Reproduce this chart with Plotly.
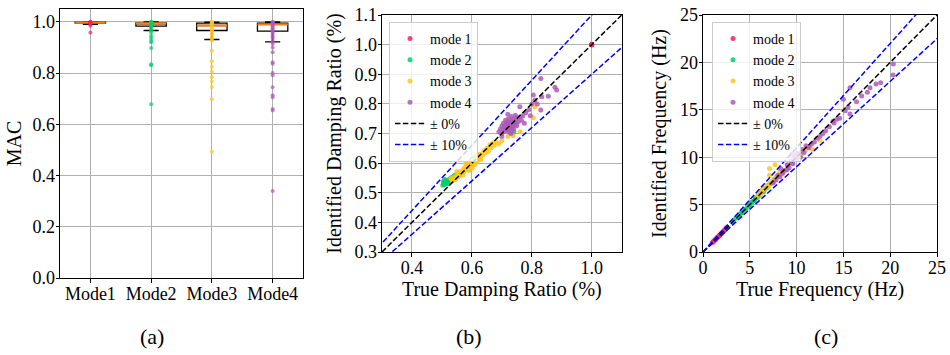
import numpy as np
import plotly.graph_objects as go

FONT = "Liberation Serif"

# ---------------- data ----------------
modes = ["Mode1", "Mode2", "Mode3", "Mode4"]
mode_names = ["mode 1", "mode 2", "mode 3", "mode 4"]
colors = ["#FF1F5B", "#00CD6C", "#FFC61E", "#AF58BA"]

# (a) MAC values per mode
mac1 = [1.0, 0.999, 0.998, 0.997, 0.996, 0.995, 0.99, 0.985, 0.958]
mac2 = [1.0, 0.999, 0.998, 0.996, 0.994, 0.992, 0.99, 0.985, 0.983, 0.979, 0.97,
        0.966, 0.959, 0.946, 0.937, 0.926, 0.92, 0.898, 0.834, 0.83, 0.678]
mac3 = [1.0, 0.998, 0.996, 0.994, 0.99, 0.986, 0.98, 0.975, 0.97, 0.966, 0.96,
        0.952, 0.945, 0.938, 0.931, 0.926, 0.887, 0.846, 0.825, 0.806, 0.784,
        0.767, 0.746, 0.698, 0.493]
mac4 = [1.0, 0.998, 0.996, 0.993, 0.99, 0.985, 0.98, 0.975, 0.97, 0.964, 0.96,
        0.952, 0.945, 0.939, 0.93, 0.922, 0.913, 0.9, 0.881, 0.842, 0.836, 0.8,
        0.791, 0.745, 0.713, 0.706, 0.66, 0.654, 0.34]
mac_all = [mac1, mac2, mac3, mac4]

# box statistics
box_q1 = [0.995, 0.983, 0.966, 0.964]
box_med = [0.997, 0.9935, 0.9856, 0.9896]
box_q3 = [0.999, 0.996, 0.995, 0.995]
box_lo = [0.99, 0.966, 0.931, 0.922]
box_hi = [1.0, 1.0, 0.999, 1.0]

# (b) damping ratio: true / identified
dr1_true = [1.0, 1.0, 1.0, 1.0]
dr1_id = [1.0, 1.001, 0.999, 1.0]
dr2_true = [0.503, 0.506, 0.509, 0.512, 0.515, 0.518, 0.521, 0.524, 0.527, 0.530,
            0.533, 0.536, 0.539, 0.542, 0.545, 0.548, 0.552, 0.556, 0.505, 0.51,
            0.52, 0.53, 0.54, 0.55, 0.585, 0.595, 0.60, 0.605, 0.61, 0.615, 0.62,
            0.625, 0.735, 0.74, 0.73]
dr2_id = [0.525, 0.532, 0.528, 0.536, 0.540, 0.534, 0.543, 0.539, 0.546, 0.550,
          0.544, 0.553, 0.549, 0.557, 0.560, 0.556, 0.563, 0.566, 0.538, 0.545,
          0.530, 0.545, 0.547, 0.555, 0.594, 0.600, 0.612, 0.604, 0.620, 0.613,
          0.625, 0.618, 0.700, 0.707, 0.712]
dr3_true = [0.530, 0.535, 0.540, 0.545, 0.550, 0.553, 0.556, 0.560, 0.563, 0.566,
            0.570, 0.573, 0.576, 0.580, 0.583, 0.586, 0.590, 0.593, 0.596, 0.600,
            0.603, 0.606, 0.610, 0.613, 0.616, 0.620, 0.623, 0.626, 0.630, 0.635,
            0.640, 0.645, 0.650, 0.655, 0.660, 0.665, 0.670, 0.675, 0.680, 0.690,
            0.700, 0.720, 0.738, 0.761, 0.805, 0.81, 0.55, 0.57, 0.59, 0.61, 0.63,
            0.58, 0.60, 0.62]
dr3_id = [0.548, 0.540, 0.552, 0.545, 0.560, 0.553, 0.566, 0.558, 0.572, 0.565,
          0.578, 0.570, 0.585, 0.577, 0.590, 0.582, 0.596, 0.588, 0.602, 0.594,
          0.608, 0.600, 0.612, 0.604, 0.618, 0.610, 0.624, 0.616, 0.630, 0.625,
          0.642, 0.635, 0.650, 0.640, 0.662, 0.652, 0.668, 0.660, 0.672, 0.665,
          0.675, 0.690, 0.692, 0.706, 0.753, 0.79, 0.572, 0.560, 0.575, 0.595,
          0.612, 0.600, 0.583, 0.630]
dr4_true = [0.690, 0.695, 0.700, 0.700, 0.705, 0.705, 0.710, 0.710, 0.712, 0.715,
            0.715, 0.718, 0.720, 0.720, 0.722, 0.725, 0.725, 0.728, 0.730, 0.730,
            0.733, 0.735, 0.738, 0.740, 0.742, 0.745, 0.748, 0.750, 0.755, 0.760,
            0.765, 0.770, 0.700, 0.708, 0.716, 0.724, 0.732, 0.74, 0.75, 0.78,
            0.79, 0.80, 0.805, 0.81, 0.818, 0.83, 0.833, 0.855, 0.877, 0.883,
            0.83, 0.76, 0.775, 0.795, 0.72, 0.73, 0.745]
dr4_id = [0.705, 0.715, 0.700, 0.725, 0.712, 0.735, 0.708, 0.722, 0.745, 0.715,
          0.730, 0.740, 0.712, 0.728, 0.750, 0.720, 0.738, 0.726, 0.716, 0.742,
          0.732, 0.724, 0.748, 0.736, 0.728, 0.742, 0.732, 0.752, 0.740, 0.756,
          0.745, 0.760, 0.690, 0.718, 0.733, 0.705, 0.757, 0.715, 0.726, 0.770,
          0.780, 0.800, 0.830, 0.812, 0.800, 0.779, 0.824, 0.826, 0.856, 0.847,
          0.886, 0.790, 0.735, 0.760, 0.765, 0.700, 0.762]

# (c) frequency: true / identified (Hz)
f1_true = [1.0, 1.1, 1.2, 1.3, 1.4, 1.5, 1.6, 1.7, 1.8, 1.9, 2.0, 2.1, 2.2, 2.3,
           2.4, 2.5, 2.6]
f1_id = [1.0, 1.12, 1.18, 1.32, 1.38, 1.52, 1.58, 1.72, 1.78, 1.92, 1.98, 2.12,
         2.18, 2.32, 2.38, 2.52, 2.58]
f2_true = [3.2, 3.5, 3.8, 4.0, 4.2, 4.4, 4.6, 4.8, 5.0, 5.2, 5.4, 5.6, 5.8, 6.0,
           6.2, 6.4, 6.6, 6.8, 7.0, 7.3, 7.6, 8.0, 8.5, 5.5, 6.5, 7.5]
f2_id = [3.2, 3.55, 3.75, 4.05, 4.15, 4.45, 4.55, 4.85, 4.95, 5.25, 5.35, 5.7,
         5.75, 5.95, 6.3, 6.35, 6.7, 6.75, 7.05, 7.25, 7.65, 7.95, 8.4, 5.4, 6.4,
         7.4]
f3_true = [5.8, 6.0, 6.2, 6.4, 7.1, 6.6, 6.8, 7.1, 7.0, 7.2, 7.7, 7.4, 7.6, 7.8,
           8.0, 8.2, 8.5, 8.8, 9.0, 9.5, 10.4, 10.5, 11.0, 11.4, 11.7, 12.5, 6.3,
           7.5, 8.3]
f3_id = [5.9, 6.2, 6.1, 6.5, 8.1, 6.7, 7.0, 8.8, 6.9, 7.3, 9.2, 7.5, 7.5, 7.9,
         8.0, 8.4, 8.3, 8.6, 9.1, 9.3, 10.05, 10.3, 10.8, 11.1, 10.8, 11.8, 6.6,
         7.3, 8.1]
f4_true = [7.5, 7.8, 8.0, 8.2, 8.5, 8.7, 9.0, 9.2, 9.4, 9.6, 9.8, 10.0, 10.2, 10.4,
           10.6, 10.8, 11.0, 11.3, 11.6, 11.9, 12.2, 12.5, 12.8, 13.1, 13.5, 13.9,
           14.0, 14.3, 14.6, 15.0, 15.2, 15.5, 15.7, 15.7, 16.4, 16.95, 17.56,
           17.84, 18.48, 18.98, 20.3, 20.33, 8.3, 9.0, 9.5, 10.0]
f4_id = [7.3, 7.6, 8.1, 7.9, 8.3, 8.6, 9.2, 8.9, 9.6, 9.3, 10.0, 9.8, 10.4, 10.0,
         10.8, 10.5, 11.2, 11.0, 11.4, 11.6, 12.0, 12.2, 12.5, 12.8, 13.2, 13.8,
         13.6, 14.0, 14.1, 16.1, 14.9, 15.3, 14.56, 17.33, 15.85, 16.46, 16.84,
         17.33, 17.72, 17.86, 18.67, 19.83, 8.8, 8.7, 10.3, 10.4]

dr_true = [dr1_true, dr2_true, dr3_true, dr4_true]
dr_id = [dr1_id, dr2_id, dr3_id, dr4_id]
f_true = [f1_true, f2_true, f3_true, f4_true]
f_id = [f1_id, f2_id, f3_id, f4_id]

ref_labels = ["\u00b1 0%", "\u00b1 10%"]
ref_tol = [0.0, 0.10]
ref_colors = ["black", "blue"]

dr_range = [0.3, 1.1]
f_range = [0, 25]

# ---------------- figure ----------------
fig = go.Figure()

# (a) box plots
for i in range(4):
    fig.add_trace(go.Box(
        x=[i + 1], q1=[box_q1[i]], median=[box_med[i]], q3=[box_q3[i]],
        lowerfence=[box_lo[i]], upperfence=[box_hi[i]],
        width=0.5, whiskerwidth=0.5, boxpoints=False,
        fillcolor="white", line=dict(color="black", width=1.3),
        showlegend=False, hoverinfo="skip", xaxis="x", yaxis="y"))
for i in range(4):
    fig.add_trace(go.Scatter(
        x=[i + 1] * len(mac_all[i]), y=mac_all[i], mode="markers",
        marker=dict(color=colors[i], size=4, opacity=0.7),
        showlegend=False, xaxis="x", yaxis="y"))
for i in range(4):
    fig.add_trace(go.Box(
        x=[i + 1], q1=[box_med[i]], median=[box_med[i]], q3=[box_med[i]],
        lowerfence=[box_med[i]], upperfence=[box_med[i]],
        width=0.5, whiskerwidth=0, boxpoints=False,
        fillcolor="rgba(0,0,0,0)", line=dict(color="#FF7F0E", width=2.2),
        showlegend=False, hoverinfo="skip", xaxis="x", yaxis="y"))

# (b) and (c) scatter panels
panels = [
    ("x2", "y2", "legend", dr_true, dr_id, dr_range),
    ("x3", "y3", "legend2", f_true, f_id, f_range),
]
for xa, ya, lg, tx, ty, rng in panels:
    for i in range(4):
        fig.add_trace(go.Scatter(
            x=tx[i], y=ty[i], mode="markers", name=mode_names[i],
            marker=dict(color=colors[i], size=5, opacity=0.85),
            xaxis=xa, yaxis=ya, legend=lg))
    line_x = np.array([0.0, rng[1] * 1.3])
    for lab, tol, col in zip(ref_labels, ref_tol, ref_colors):
        factors = [1.0] if tol == 0 else [1.0 + tol, 1.0 - tol]
        for k, fac in enumerate(factors):
            fig.add_trace(go.Scatter(
                x=line_x, y=line_x * fac, mode="lines", name=lab,
                line=dict(color=col, width=1.5, dash="5.5px,2.4px"),
                showlegend=(k == 0), legendgroup=lab + xa,
                xaxis=xa, yaxis=ya, legend=lg))

W, H = 950, 355
def dom_x(a, b):
    return [a / W, b / W]
def dom_y(top, bottom):
    return [1 - bottom / H, 1 - top / H]

axis_common = dict(
    showline=True, mirror=True, linecolor="black", linewidth=1,
    ticks="outside", ticklen=3.5, tickcolor="black", tickwidth=1,
    showgrid=True, gridcolor="#b0b0b0", gridwidth=0.8, zeroline=False,
    tickfont=dict(family=FONT, size=18, color="black"),
    automargin=False,
)
xax = dict(axis_common, ticklabelstandoff=-4)
yax = dict(axis_common, ticklabelstandoff=-3)
title_font = dict(family=FONT, size=20, color="black")
legend_common = dict(
    xanchor="left", yanchor="top",
    bgcolor="rgba(255,255,255,0.8)", bordercolor="#cccccc", borderwidth=1,
    font=dict(family=FONT, size=14, color="black"),
    tracegroupgap=0, itemwidth=30,
)

fig.update_layout(
    width=W, height=H, margin=dict(l=0, r=0, t=0, b=0, autoexpand=False),
    paper_bgcolor="white", plot_bgcolor="white",
    font=dict(family=FONT, color="black"),
    boxmode="overlay",
    xaxis=dict(xax, domain=dom_x(60, 303), range=[0.5, 4.5],
               tickvals=[1, 2, 3, 4], ticktext=modes, anchor="y"),
    yaxis=dict(yax, domain=dom_y(9, 278), range=[0, 1.05],
               dtick=0.2, tickformat=".1f", anchor="x",
               title=dict(text="MAC", font=title_font, standoff=5)),
    xaxis2=dict(xax, domain=dom_x(382, 621.7), range=dr_range,
                tickvals=[0.4, 0.6, 0.8, 1.0], tickformat=".1f", anchor="y2",
                title=dict(text="True Damping Ratio (%)", font=title_font, standoff=0)),
    yaxis2=dict(yax, domain=dom_y(15, 252), range=dr_range,
                dtick=0.1, tickformat=".1f", anchor="x2",
                title=dict(text="Identified Damping Ratio (%)", font=title_font, standoff=7)),
    xaxis3=dict(xax, domain=dom_x(703, 937), range=f_range,
                dtick=5, anchor="y3",
                title=dict(text="True Frequency (Hz)", font=title_font, standoff=0)),
    yaxis3=dict(yax, domain=dom_y(15, 252), range=f_range,
                dtick=5, anchor="x3",
                title=dict(text="Identified Frequency (Hz)", font=title_font, standoff=7)),
    legend=dict(legend_common, x=389 / W, y=1 - 22 / H),
    legend2=dict(legend_common, x=712 / W, y=1 - 22 / H),
)

for lab, xc in zip(["(a)", "(b)", "(c)"], [152, 469, 826]):
    fig.add_annotation(text=lab, x=xc / W, y=1 - 336 / H, xref="paper", yref="paper",
                       xanchor="center", yanchor="middle",
                       showarrow=False, font=dict(family=FONT, size=22, color="black"))

fig.write_html("out.html")
